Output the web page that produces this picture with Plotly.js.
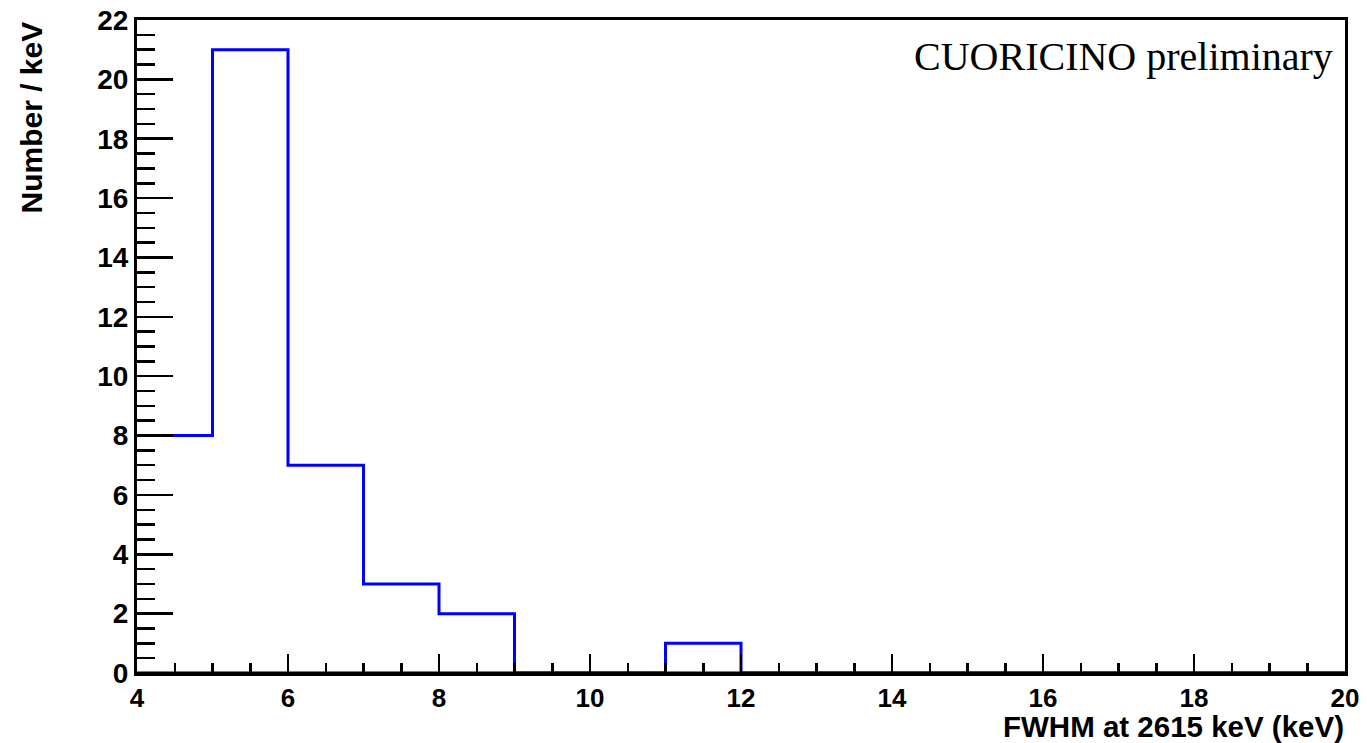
<!DOCTYPE html>
<html>
<head>
<meta charset="utf-8">
<script src="https://cdn.plot.ly/plotly-3.0.1.min.js"></script>
<style>html,body{margin:0;padding:0;background:#fff;}#chart{width:1367px;height:743px;}</style>
</head>
<body>
<div id="chart"></div>
<script>
// Histogram bin edges (keV) and counts per bin
const binEdges = [4, 5, 6, 7, 8, 9, 10, 11, 12, 13, 14, 15, 16, 17, 18, 19, 20];
const counts   = [8, 21, 7, 3, 2, 0, 0, 1, 0, 0, 0, 0, 0, 0, 0, 0];
const xTitle = "FWHM at 2615 keV (keV)";
const yTitle = "Number / keV";
const label = "CUORICINO preliminary";

const stepY = counts.concat([counts[counts.length - 1]]);

const trace = {
  x: binEdges,
  y: stepY,
  type: 'scatter',
  mode: 'lines',
  line: {shape: 'hv', color: '#0000ff', width: 3},
  hoverinfo: 'x+y',
  showlegend: false
};

const xTickFont = {family: 'Liberation Sans, Arial, sans-serif', size: 26, color: '#000', weight: 'bold'};
const yTickFont = {family: 'Liberation Sans, Arial, sans-serif', size: 28, color: '#000', weight: 'bold'};
const xTitleFont = {family: 'Liberation Sans, Arial, sans-serif', size: 29.5, color: '#000', weight: 'bold'};
const yTitleFont = {family: 'Liberation Sans, Arial, sans-serif', size: 30, color: '#000', weight: 'bold'};

const layout = {
  width: 1367, height: 743,
  margin: {l: 137, r: 22, t: 20, b: 70},
  paper_bgcolor: '#fff', plot_bgcolor: '#fff',
  showlegend: false,
  xaxis: {
    range: [4, 20], dtick: 2, tick0: 4,
    ticks: 'inside', ticklen: 19, tickwidth: 2.5, tickcolor: '#000',
    minor: {dtick: 0.5, ticks: 'inside', ticklen: 10, tickwidth: 2.5, tickcolor: '#000', showgrid: false},
    showline: true, linewidth: 3, linecolor: '#000', mirror: true,
    showgrid: false, zeroline: false,
    tickfont: xTickFont, fixedrange: true
  },
  yaxis: {
    range: [0, 22], dtick: 2, tick0: 0,
    ticks: 'inside', ticklen: 36, tickwidth: 2.5, tickcolor: '#000',
    minor: {dtick: 0.5, ticks: 'inside', ticklen: 18, tickwidth: 2.5, tickcolor: '#000', showgrid: false},
    showline: true, linewidth: 3, linecolor: '#000', mirror: true,
    showgrid: false, zeroline: false,
    tickfont: yTickFont, fixedrange: true
  },
  shapes: [
    {type: 'line', xref: 'paper', yref: 'paper', x0: 0, x1: 1, y0: 0, y1: 0,
     line: {color: '#000', width: 3}, layer: 'above'}
  ],
  annotations: [
    {text: xTitle, xref: 'paper', yref: 'paper', x: 1, y: 0, xanchor: 'right', yanchor: 'top',
     yshift: -36, showarrow: false, borderpad: 0, font: xTitleFont},
    {text: yTitle, xref: 'paper', yref: 'paper', x: 0, y: 1, xanchor: 'right', yanchor: 'top',
     xshift: -88, textangle: -90, showarrow: false, font: yTitleFont},
    {text: label, xref: 'paper', yref: 'paper', x: 1, y: 1, xanchor: 'right', yanchor: 'top',
     xshift: -10, yshift: -12, showarrow: false,
     font: {family: 'Liberation Serif, Times New Roman, serif', size: 40, color: '#000'}}
  ]
};

Plotly.newPlot('chart', [trace], layout, {displayModeBar: false, staticPlot: true});
</script>
</body>
</html>
